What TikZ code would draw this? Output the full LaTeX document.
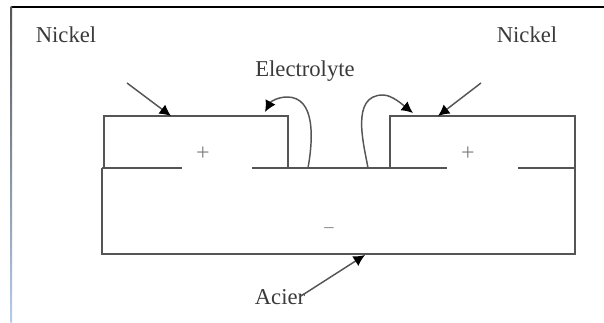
\documentclass[tikz,border=0pt]{standalone}
\usepackage{fontspec}
\setmainfont{Liberation Serif}
\usetikzlibrary{arrows.meta,positioning}
\definecolor{trait}{HTML}{555555}
\definecolor{texte}{HTML}{3A3A3A}
\definecolor{bordbleu}{HTML}{B5CDEA}
\begin{document}
\begin{tikzpicture}[x=0.75pt,y=-0.75pt,
    etiquette/.style={font=\fontsize{17pt}{18pt}\selectfont,text=texte,inner sep=0pt},
    signe/.style={font=\fontsize{18pt}{20pt}\selectfont,text=gray,inner sep=0pt},
    trait/.style={draw=trait,line width=1.2pt},
    flecha/.style={-{Latex[length=3mm,width=3mm,black]},draw=trait,line width=1.1pt}]
    \useasboundingbox (0,0) rectangle (604,323);
    % cadre
    \draw[black,line width=1.1pt] (11,7) -- (604,7);
    \shade[top color=trait,bottom color=bordbleu] (10.5,7) rectangle (12,323);
    % nickel et acier
    \draw[trait] (104,168) -- (104,116) -- (288,116) -- (288,168);
    \draw[trait] (390,168) -- (390,116) -- (575,116) -- (575,168);
    \draw[trait] (102,168) -- (182,168);
    \draw[trait] (252,168) -- (447,168);
    \draw[trait] (518,168) -- (575,168);
    \draw[trait] (102,168) -- (102,254) -- (575,254) -- (575,168);
    \node[signe] (plusg) at (203,154) {+};
    \node[signe] (plusd) at (468,154) {+};
    \node[signe,font=\fontsize{14pt}{16pt}\selectfont] (moins) at (329,230) {–};
    % textes
    \node[etiquette] (nickelg) at (66,35) {Nickel};
    \node[etiquette] (nickeld) at (527,35) {Nickel};
    \node[etiquette] (electrolyte) at (305,71) {Electrolyte};
    \node[etiquette] (acier) at (280,297) {Acier};
    % points d'arrivee
    \coordinate (departg) at (127,83);
    \coordinate (arriveeg) at (171,116);
    \coordinate (departd) at (481,83);
    \coordinate (arriveed) at (438,116);
    \coordinate (departa) at (301,296);
    \coordinate (arriveea) at (365,255);
    \coordinate (piedg) at (308,168);
    \coordinate (bulleg) at (265,112);
    \coordinate (piedd) at (368,168);
    \coordinate (bulled) at (413,113);
    \draw[flecha] (departg) -- (arriveeg);
    \draw[flecha] (departd) -- (arriveed);
    \draw[flecha] (departa) -- (arriveea);
    \draw[flecha] (piedg) .. controls (313,140) and (316,97) .. (287,97) .. controls (279,97) and (271,101) .. (bulleg);
    \draw[flecha] (piedd) .. controls (364,145) and (350,95) .. (383,95) .. controls (392,95) and (403,105) .. (bulled);
\end{tikzpicture}
\end{document}
